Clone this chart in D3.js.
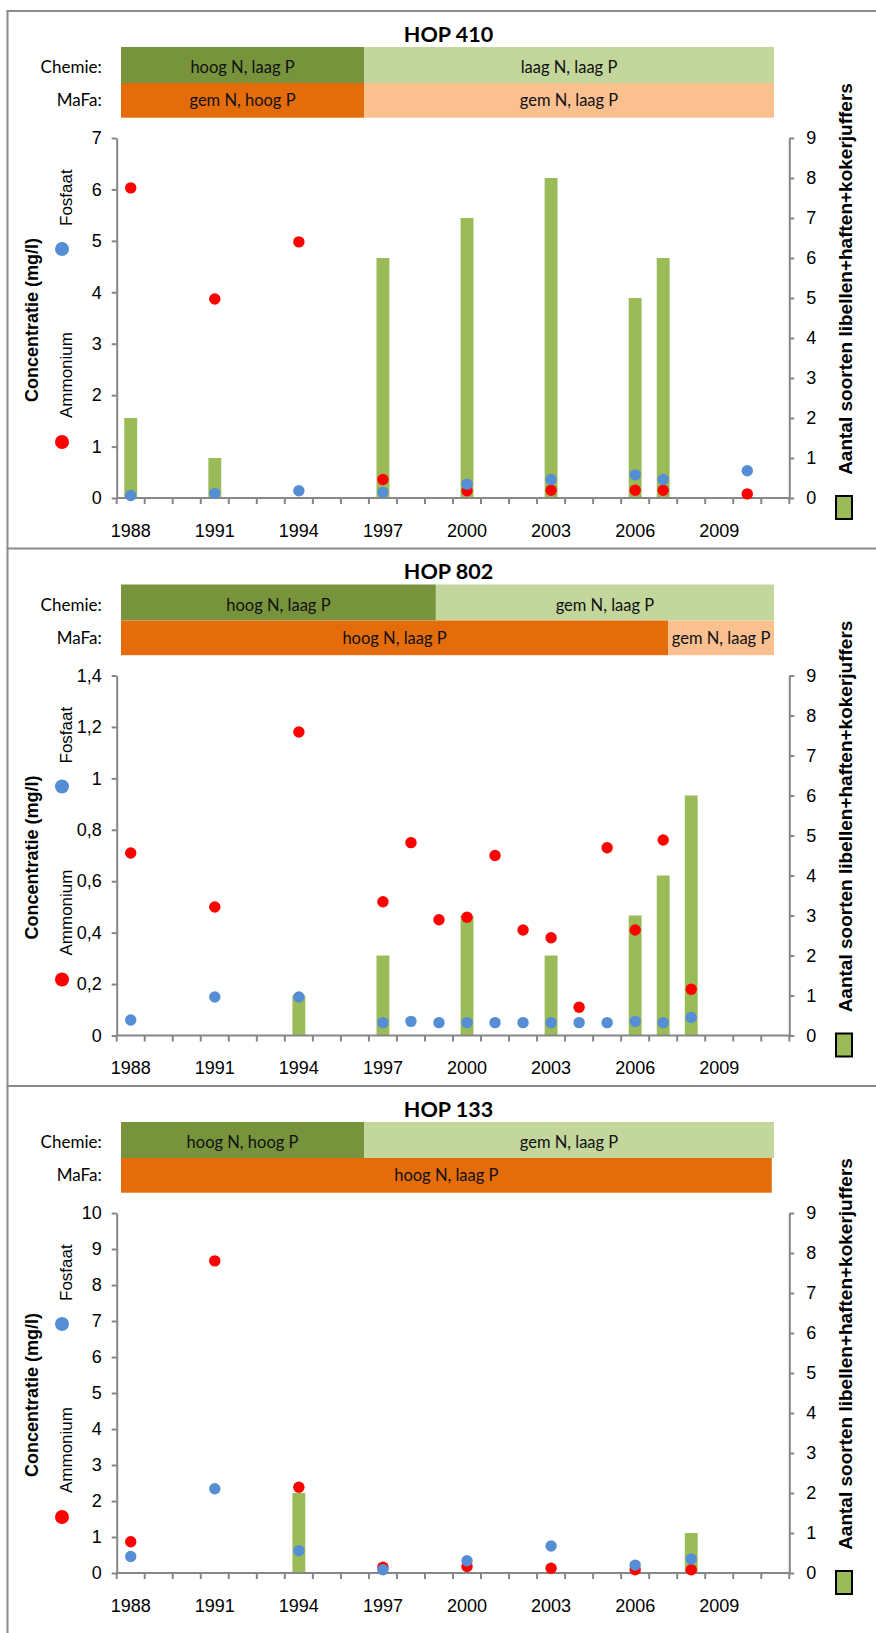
<!DOCTYPE html>
<html>
<head>
<meta charset="utf-8">
<script src="https://cdn.jsdelivr.net/npm/d3@7"></script>
<style>
  body { margin: 0; background: #fff; }
  svg { display: block; }
</style>
</head>
<body>
<svg id="chart" width="876" height="1633"></svg>
<script>
// ---- Data ----------------------------------------------------------------
// Yearly category axis shared by the three sampling points
const categories = ["1988","1989","1990","1991","1992","1993","1994","1995","1996","1997","1998","1999",
                    "2000","2001","2002","2003","2004","2005","2006","2007","2008","2009","2010","2011"];
const xTickLabels = ["1988","1991","1994","1997","2000","2003","2006","2009"];
const rightTicks = [0,1,2,3,4,5,6,7,8,9];
const rightTickLabels = ["0","1","2","3","4","5","6","7","8","9"];

// HOP 410
const hop410Title = "HOP 410";
const hop410Years = ["1988","1991","1994","1997","2000","2003","2006","2007","2010"];
const hop410Ammonium = [6.03, 3.87, 4.98, 0.36, 0.14, 0.15, 0.15, 0.15, 0.08];
const hop410Fosfaat  = [0.05, 0.09, 0.14, 0.11, 0.27, 0.36, 0.45, 0.36, 0.53];
const hop410SoortYears = ["1988","1991","1997","2000","2003","2006","2007"];
const hop410Soorten    = [2, 1, 6, 7, 8, 5, 6];
const hop410LeftTicks  = [0,1,2,3,4,5,6,7];
const hop410LeftLabels = ["0","1","2","3","4","5","6","7"];
const hop410Chemie = [
  { label: "hoog N, laag P", from: 1988, to: 1996.56 },
  { label: "laag N, laag P", from: 1996.56, to: 2011 }
];
const hop410Mafa = [
  { label: "gem N, hoog P", from: 1988, to: 1996.56 },
  { label: "gem N, laag P", from: 1996.56, to: 2011 }
];

// HOP 802
const hop802Title = "HOP 802";
const hop802Years = ["1988","1991","1994","1997","1998","1999","2000","2001","2002","2003","2004","2005","2006","2007","2008"];
const hop802Ammonium = [0.71, 0.50, 1.18, 0.52, 0.75, 0.45, 0.46, 0.70, 0.41, 0.38, 0.11, 0.73, 0.41, 0.76, 0.18];
const hop802Fosfaat  = [0.06, 0.15, 0.15, 0.05, 0.055, 0.05, 0.05, 0.05, 0.05, 0.05, 0.05, 0.05, 0.055, 0.05, 0.07];
const hop802SoortYears = ["1994","1997","2000","2003","2006","2007","2008"];
const hop802Soorten    = [1, 2, 3, 2, 3, 4, 6];
const hop802LeftTicks  = [0,0.2,0.4,0.6,0.8,1,1.2,1.4];
const hop802LeftLabels = ["0","0,2","0,4","0,6","0,8","1","1,2","1,4"];
const hop802Chemie = [
  { label: "hoog N, laag P", from: 1988, to: 1999.09 },
  { label: "gem N, laag P", from: 1999.09, to: 2011 }
];
const hop802Mafa = [
  { label: "hoog N, laag P", from: 1988, to: 2007.27 },
  { label: "gem N, laag P", from: 2007.27, to: 2011 }
];

// HOP 133
const hop133Title = "HOP 133";
const hop133Years = ["1988","1991","1994","1997","2000","2003","2006","2008"];
const hop133Ammonium = [0.87, 8.67, 2.38, 0.16, 0.18, 0.13, 0.09, 0.09];
const hop133Fosfaat  = [0.46, 2.34, 0.62, 0.09, 0.34, 0.75, 0.22, 0.39];
const hop133SoortYears = ["1994","2008"];
const hop133Soorten    = [2, 1];
const hop133LeftTicks  = [0,1,2,3,4,5,6,7,8,9,10];
const hop133LeftLabels = ["0","1","2","3","4","5","6","7","8","9","10"];
const hop133Chemie = [
  { label: "hoog N, hoog P", from: 1988, to: 1996.56 },
  { label: "gem N, laag P", from: 1996.56, to: 2011 }
];
const hop133Mafa = [
  { label: "hoog N, laag P", from: 1988, to: 2010.92 }
];

const panels = [
  { title: hop410Title, years: hop410Years, ammonium: hop410Ammonium, fosfaat: hop410Fosfaat,
    soortYears: hop410SoortYears, soorten: hop410Soorten, leftTicks: hop410LeftTicks,
    leftLabels: hop410LeftLabels, chemie: hop410Chemie, mafa: hop410Mafa },
  { title: hop802Title, years: hop802Years, ammonium: hop802Ammonium, fosfaat: hop802Fosfaat,
    soortYears: hop802SoortYears, soorten: hop802Soorten, leftTicks: hop802LeftTicks,
    leftLabels: hop802LeftLabels, chemie: hop802Chemie, mafa: hop802Mafa },
  { title: hop133Title, years: hop133Years, ammonium: hop133Ammonium, fosfaat: hop133Fosfaat,
    soortYears: hop133SoortYears, soorten: hop133Soorten, leftTicks: hop133LeftTicks,
    leftLabels: hop133LeftLabels, chemie: hop133Chemie, mafa: hop133Mafa }
];

// ---- Styling / layout ------------------------------------------------------
const FRAME = "#8c8c8c";
const AXIS = "#868686";
const BAR = "#9bbb59";
const RED = "#ff0000";
const BLUE = "#558ed5";
const CHEMIE_DARK = "#77933c", CHEMIE_LIGHT = "#c3d69b";
const MAFA_DARK = "#e46c0a", MAFA_LIGHT = "#fac090";
const SANS = "'Liberation Sans', Arial, sans-serif";
const HUMAN = "Lato, 'Open Sans', sans-serif";

const PLOT_L = 116.7, PLOT_R = 789.3;
const BAND_L = 121, BAND_R = 774;
const FIRST_TOP = 11, PANEL_STEP = 537.5;

const svg = d3.select("#chart");

// outer frame: left edge plus a rule at the top of every panel
svg.append("line")
  .attr("x1", 7.5).attr("x2", 7.5).attr("y1", FIRST_TOP).attr("y2", 1633)
  .attr("stroke", FRAME).attr("stroke-width", 2);
panels.forEach((p, i) => {
  const T = FIRST_TOP + i * PANEL_STEP;
  svg.append("line")
    .attr("x1", 6.5).attr("x2", 876).attr("y1", T).attr("y2", T)
    .attr("stroke", FRAME).attr("stroke-width", 2);
});

const x = d3.scaleBand().domain(categories).range([PLOT_L, PLOT_R]);
const bandX = d3.scaleLinear().domain([1988, 2011]).range([BAND_L, BAND_R]);
const barW = x.bandwidth() * 0.46;
const cx = c => x(c) + x.bandwidth() / 2;

panels.forEach((p, i) => {
  const T = FIRST_TOP + i * PANEL_STEP;
  const plotTop = T + 127, plotBottom = T + 487;
  const g = svg.append("g");

  const yL = d3.scaleLinear().domain([0, d3.max(p.leftTicks)]).range([plotBottom, plotTop]);
  const yR = d3.scaleLinear().domain([0, d3.max(rightTicks)]).range([plotBottom, plotTop]);

  // title
  g.append("text")
    .attr("x", 448.5).attr("y", T + 30.7)
    .attr("text-anchor", "middle")
    .style("font-family", HUMAN).style("font-weight", 700).style("font-size", "21.5px")
    .text(p.title);

  // condition bands (Chemie / MaFa)
  const rows = [
    { name: "Chemie:", segs: p.chemie, y0: T + 36, y1: T + 72, base: T + 62.3, dark: CHEMIE_DARK, light: CHEMIE_LIGHT },
    { name: "MaFa:", segs: p.mafa, y0: T + 72, y1: T + 106.7, base: T + 95, dark: MAFA_DARK, light: MAFA_LIGHT }
  ];
  rows.forEach(r => {
    g.append("text")
      .attr("x", 101.7).attr("y", r.base)
      .attr("text-anchor", "end")
      .style("font-family", HUMAN).style("font-size", "17px")
      .text(r.name);
    const seg = g.selectAll(null).data(r.segs).enter().append("g");
    seg.append("rect")
      .attr("x", d => bandX(d.from))
      .attr("width", d => bandX(d.to) - bandX(d.from))
      .attr("y", r.y0).attr("height", r.y1 - r.y0)
      .attr("fill", d => d.label.includes("hoog") ? r.dark : r.light);
    seg.append("text")
      .attr("x", d => (bandX(d.from) + bandX(d.to)) / 2)
      .attr("y", r.base)
      .attr("text-anchor", "middle")
      .style("font-family", HUMAN).style("font-size", "16.5px")
      .attr("fill", "#111")
      .text(d => d.label);
  });

  // species-count bars on the right axis
  g.selectAll(null).data(p.soortYears.map((y, k) => ({ y, v: p.soorten[k] }))).enter()
    .append("rect")
    .attr("x", d => cx(d.y) - barW / 2)
    .attr("width", barW)
    .attr("y", d => yR(d.v))
    .attr("height", d => yR(0) - yR(d.v))
    .attr("fill", BAR);

  // left axis
  const axL = g.append("g").attr("transform", `translate(${PLOT_L},0)`)
    .call(d3.axisLeft(yL).tickValues(p.leftTicks).tickFormat((d, k) => p.leftLabels[k])
      .tickSize(5).tickSizeOuter(0).tickPadding(10));
  // right axis
  const axR = g.append("g").attr("transform", `translate(${PLOT_R},0)`)
    .call(d3.axisRight(yR).tickValues(rightTicks).tickFormat((d, k) => rightTickLabels[k])
      .tickSize(5).tickSizeOuter(0).tickPadding(12));
  [axL, axR].forEach(a => {
    a.select(".domain").attr("stroke", AXIS).attr("stroke-width", 2);
    a.selectAll(".tick line").attr("stroke", AXIS).attr("stroke-width", 2);
    a.selectAll(".tick text").attr("fill", "#000")
      .style("font-family", SANS).style("font-size", "18px");
  });

  // bottom axis: line, category-boundary ticks and year labels
  g.append("line")
    .attr("x1", PLOT_L).attr("x2", PLOT_R).attr("y1", plotBottom).attr("y2", plotBottom)
    .attr("stroke", AXIS).attr("stroke-width", 2);
  const bounds = categories.map(c => x(c)).concat([x.range()[1]]);
  g.selectAll(null).data(bounds).enter().append("line")
    .attr("x1", d => d).attr("x2", d => d)
    .attr("y1", plotBottom).attr("y2", plotBottom + 6)
    .attr("stroke", AXIS).attr("stroke-width", 2);
  g.selectAll(null).data(xTickLabels).enter().append("text")
    .attr("x", d => cx(d)).attr("y", T + 525.7)
    .attr("text-anchor", "middle")
    .style("font-family", SANS).style("font-size", "18px")
    .text(d => d);

  // concentration markers
  g.selectAll(null).data(p.years.map((y, k) => ({ y, v: p.ammonium[k] }))).enter()
    .append("circle")
    .attr("cx", d => cx(d.y)).attr("cy", d => yL(d.v)).attr("r", 5.7)
    .attr("fill", RED);
  g.selectAll(null).data(p.years.map((y, k) => ({ y, v: p.fosfaat[k] }))).enter()
    .append("circle")
    .attr("cx", d => cx(d.y)).attr("cy", d => yL(d.v)).attr("r", 5.7)
    .attr("fill", BLUE);

  // left axis title and vertical legend
  g.append("text")
    .attr("transform", `translate(38,${T + 309}) rotate(-90)`)
    .attr("text-anchor", "middle")
    .style("font-family", SANS).style("font-weight", 700).style("font-size", "18px")
    .text("Concentratie (mg/l)");
  g.append("circle").attr("cx", 62).attr("cy", T + 238).attr("r", 7).attr("fill", BLUE);
  g.append("text")
    .attr("transform", `translate(71.5,${T + 215}) rotate(-90)`)
    .style("font-family", SANS).style("font-size", "17px")
    .text("Fosfaat");
  g.append("circle").attr("cx", 62).attr("cy", T + 431).attr("r", 7).attr("fill", RED);
  g.append("text")
    .attr("transform", `translate(71.5,${T + 407}) rotate(-90)`)
    .style("font-family", SANS).style("font-size", "17px")
    .text("Ammonium");

  // right axis title and legend key
  g.append("text")
    .attr("transform", `translate(852,${T + 268}) rotate(-90)`)
    .attr("text-anchor", "middle")
    .style("font-family", SANS).style("font-weight", 700).style("font-size", "19px")
    .text("Aantal soorten libellen+haften+kokerjuffers");
  g.append("rect")
    .attr("x", 836).attr("y", T + 485).attr("width", 16).attr("height", 23)
    .attr("fill", BAR).attr("stroke", "#000").attr("stroke-width", 2);
});
</script>
</body>
</html>
